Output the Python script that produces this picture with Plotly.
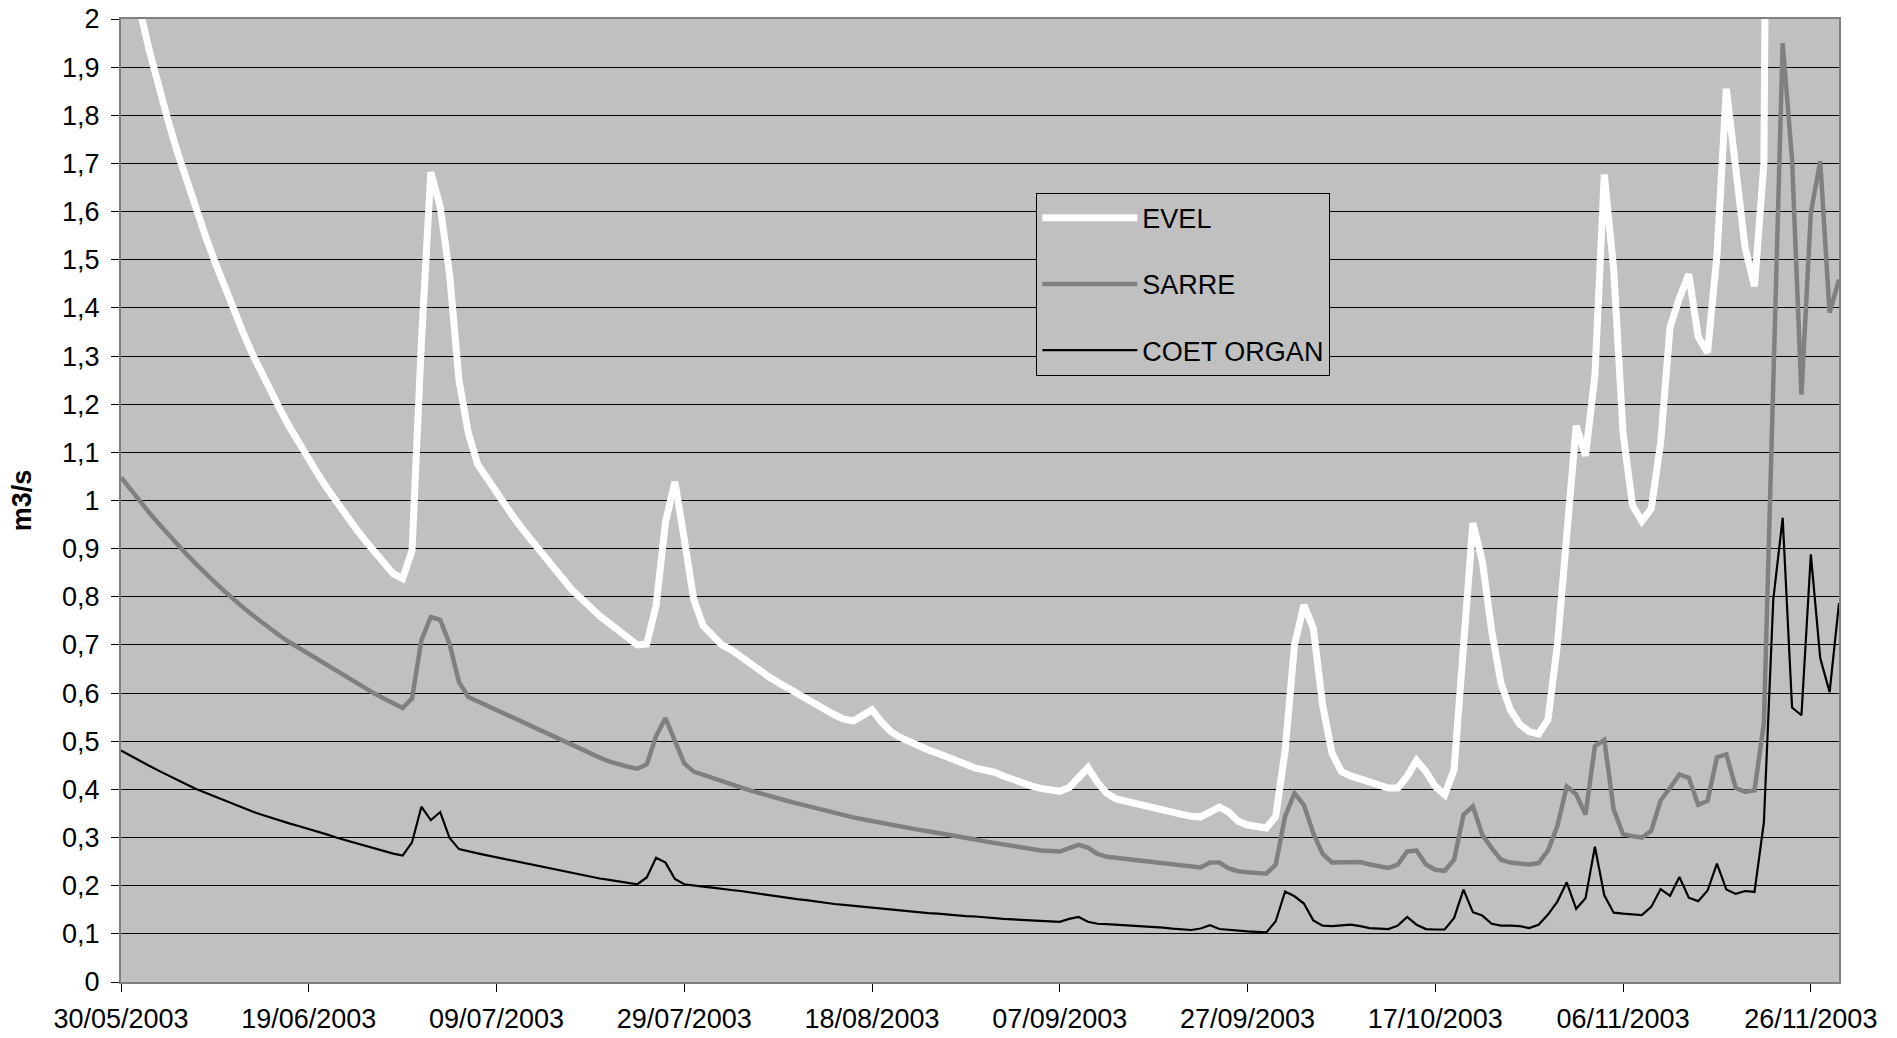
import pandas as pd
import plotly.graph_objects as go

start_date = "2003-05-30"
n_days = 184
dates = pd.date_range(start_date, periods=n_days, freq="D")

evel = [
    2.22, 2.115, 2.02, 1.936, 1.86, 1.79, 1.724, 1.662, 1.604, 1.549,
    1.496, 1.445, 1.396, 1.349, 1.304, 1.263, 1.224, 1.187, 1.151, 1.117,
    1.085, 1.054, 1.024, 0.995, 0.968, 0.942, 0.917, 0.893, 0.87, 0.848,
    0.838, 0.896, 1.33, 1.682, 1.61, 1.47, 1.25, 1.14, 1.075, 1.045,
    1.015, 0.99, 0.96, 0.935, 0.91, 0.885, 0.86, 0.84, 0.815, 0.797,
    0.777, 0.76, 0.745, 0.73, 0.715, 0.70, 0.702, 0.782, 0.955, 1.039,
    0.92, 0.795, 0.74, 0.72, 0.70, 0.69, 0.675, 0.66, 0.646, 0.634,
    0.622, 0.61, 0.60, 0.588, 0.577, 0.566, 0.555, 0.546, 0.542, 0.552,
    0.565, 0.54, 0.52, 0.508, 0.498, 0.49, 0.482, 0.475, 0.466, 0.46,
    0.452, 0.444, 0.44, 0.436, 0.428, 0.42, 0.413, 0.407, 0.402, 0.40,
    0.396, 0.404, 0.425, 0.445, 0.415, 0.392, 0.38, 0.375, 0.37, 0.365,
    0.36, 0.357, 0.353, 0.348, 0.344, 0.343, 0.353, 0.363, 0.353, 0.334,
    0.326, 0.322, 0.32, 0.344, 0.48, 0.70, 0.783, 0.735, 0.575, 0.475,
    0.437, 0.428, 0.421, 0.415, 0.41, 0.403, 0.403, 0.427, 0.46, 0.437,
    0.406, 0.389, 0.441, 0.70, 0.953, 0.875, 0.73, 0.62, 0.565, 0.535,
    0.52, 0.515, 0.545, 0.70, 0.93, 1.155, 1.093, 1.26, 1.677, 1.48,
    1.14, 0.99, 0.957, 0.983, 1.12, 1.36, 1.42, 1.47, 1.34, 1.307,
    1.51, 1.855, 1.69, 1.525, 1.445, 1.70, 4.5, 5.2, 4.0, 3.0,
    3.8, 4.2, 3.1, 3.4,
]

sarre = [
    1.048, 1.023, 0.999, 0.975, 0.952, 0.93, 0.909, 0.888, 0.868, 0.848,
    0.83, 0.812, 0.794, 0.778, 0.762, 0.747, 0.732, 0.718, 0.705, 0.693,
    0.681, 0.669, 0.657, 0.645, 0.633, 0.621, 0.61, 0.599, 0.589, 0.579,
    0.569, 0.589, 0.71, 0.758, 0.752, 0.702, 0.623, 0.592, 0.583, 0.574,
    0.564, 0.555, 0.545, 0.536, 0.527, 0.518, 0.509, 0.50, 0.491, 0.482,
    0.474, 0.466, 0.458, 0.452, 0.447, 0.443, 0.452, 0.511, 0.548, 0.501,
    0.454, 0.437, 0.43, 0.423, 0.416, 0.41, 0.404, 0.398, 0.392, 0.387,
    0.381, 0.376, 0.371, 0.366, 0.36, 0.355, 0.35, 0.346, 0.342, 0.338,
    0.334, 0.33, 0.326, 0.322, 0.319, 0.316, 0.313, 0.31, 0.306, 0.302,
    0.299, 0.296, 0.292, 0.289, 0.285, 0.282, 0.278, 0.275, 0.273, 0.272,
    0.271, 0.278, 0.285, 0.279, 0.266, 0.26, 0.258, 0.256, 0.254, 0.252,
    0.249, 0.247, 0.245, 0.242, 0.24, 0.238, 0.248, 0.248, 0.236, 0.23,
    0.228, 0.226, 0.225, 0.244, 0.344, 0.392, 0.368, 0.309, 0.266, 0.248,
    0.248, 0.25, 0.249, 0.244, 0.24, 0.237, 0.244, 0.271, 0.273, 0.244,
    0.233, 0.231, 0.254, 0.347, 0.365, 0.306, 0.278, 0.254, 0.248, 0.246,
    0.244, 0.247, 0.273, 0.324, 0.406, 0.39, 0.348, 0.49, 0.503, 0.358,
    0.307, 0.303, 0.30, 0.314, 0.377, 0.403, 0.431, 0.424, 0.368, 0.376,
    0.467, 0.473, 0.403, 0.395, 0.398, 0.538, 1.25, 1.95, 1.708, 1.22,
    1.597, 1.705, 1.39, 1.459,
]

coet_organ = [
    0.481, 0.470, 0.459, 0.449, 0.439, 0.429, 0.4195, 0.410, 0.401, 0.393,
    0.3845, 0.3765, 0.369, 0.361, 0.354, 0.3475, 0.341, 0.335, 0.329, 0.3235,
    0.318, 0.312, 0.306, 0.2995, 0.294, 0.288, 0.282, 0.277, 0.2715, 0.2665,
    0.2625, 0.29, 0.364, 0.336, 0.353, 0.299, 0.276, 0.271, 0.267, 0.263,
    0.259, 0.255, 0.251, 0.247, 0.243, 0.239, 0.235, 0.231, 0.226, 0.222,
    0.219, 0.215, 0.212, 0.209, 0.206, 0.203, 0.217, 0.258, 0.248, 0.214,
    0.203, 0.20, 0.198, 0.196, 0.193, 0.191, 0.189, 0.186, 0.183, 0.18,
    0.177, 0.175, 0.172, 0.17, 0.167, 0.165, 0.162, 0.16, 0.158, 0.156,
    0.154, 0.152, 0.15, 0.148, 0.147, 0.145, 0.143, 0.142, 0.14, 0.139,
    0.137, 0.136, 0.134, 0.133, 0.131, 0.13, 0.129, 0.128, 0.127, 0.126,
    0.125, 0.131, 0.135, 0.125, 0.121, 0.12, 0.119, 0.118, 0.117, 0.115,
    0.114, 0.113, 0.111, 0.11, 0.108, 0.111, 0.118, 0.11, 0.108, 0.106,
    0.105, 0.104, 0.103, 0.126, 0.188, 0.178, 0.163, 0.128, 0.117, 0.116,
    0.117, 0.119, 0.116, 0.112, 0.111, 0.11, 0.117, 0.135, 0.119, 0.11,
    0.109, 0.109, 0.133, 0.192, 0.145, 0.138, 0.121, 0.117, 0.117, 0.116,
    0.112, 0.119, 0.14, 0.167, 0.207, 0.152, 0.174, 0.281, 0.18, 0.144,
    0.142, 0.141, 0.139, 0.156, 0.193, 0.179, 0.218, 0.175, 0.168, 0.19,
    0.246, 0.192, 0.183, 0.189, 0.187, 0.332, 0.794, 0.964, 0.57, 0.554,
    0.888, 0.673, 0.602, 0.787,
]

x_tick_labels = ["30/05/2003", "19/06/2003", "09/07/2003", "29/07/2003", "18/08/2003",
                 "07/09/2003", "27/09/2003", "17/10/2003", "06/11/2003", "26/11/2003"]
y_tick_values = [round(0.1 * k, 1) for k in range(21)]
y_tick_labels = [("%g" % v).replace(".", ",") for v in y_tick_values]

x_tick_values = pd.to_datetime(x_tick_labels, format="%d/%m/%Y")

FONT = "Arial, Liberation Sans, sans-serif"
FS = 27

fig = go.Figure()
fig.add_trace(go.Scatter(x=dates, y=evel, name="EVEL", mode="lines",
                         line=dict(color="#FFFFFF", width=7), legendgroup="a"))
fig.add_trace(go.Scatter(x=dates, y=sarre, name="SARRE", mode="lines",
                         line=dict(color="#808080", width=4.5), legendgroup="b"))
fig.add_trace(go.Scatter(x=dates, y=coet_organ, name="COET ORGAN", mode="lines",
                         line=dict(color="#000000", width=2.2), legendgroup="c"))

fig.update_layout(
    width=1897, height=1038,
    margin=dict(l=121, r=58, t=19, b=56, pad=0),
    paper_bgcolor="#FFFFFF",
    plot_bgcolor="#C0C0C0",
    font=dict(family=FONT, size=FS, color="#000000"),
    separators=", ",
    showlegend=True,
    legend=dict(
        x=0.5328, y=0.7245, xanchor="left", yanchor="middle",
        bgcolor="#C0C0C0", bordercolor="#000000", borderwidth=1,
        font=dict(family=FONT, size=FS, color="#000000"),
        tracegroupgap=28, traceorder="grouped", itemwidth=95,
    ),
)

fig.update_xaxes(
    type="date",
    range=[dates[0], dates[-1]],
    tickvals=x_tick_values, ticktext=x_tick_labels,
    ticks="outside", ticklen=8, tickwidth=1, tickcolor="#000000",
    ticklabelstandoff=4,
    showgrid=False, zeroline=False, automargin=False,
    showline=True, linecolor="#808080", linewidth=2, mirror=True,
    tickfont=dict(family=FONT, size=FS, color="#000000"),
)
fig.update_yaxes(
    range=[0, 2],
    tickvals=y_tick_values, ticktext=y_tick_labels,
    ticks="outside", ticklen=8, tickwidth=1, tickcolor="#000000",
    ticklabelstandoff=6,
    showgrid=True, gridcolor="#000000", gridwidth=1, zeroline=False, automargin=False,
    showline=True, linecolor="#808080", linewidth=2, mirror=True,
    tickfont=dict(family=FONT, size=FS, color="#000000"),
    title=dict(text="<b>m3/s</b>", font=dict(family=FONT, size=FS, color="#000000"), standoff=23),
)

fig.write_html("out.html")
